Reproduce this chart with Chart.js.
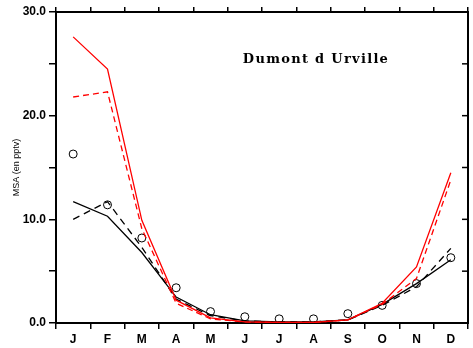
<!DOCTYPE html>
<html>
<head>
<meta charset="utf-8">
<script src="https://cdn.jsdelivr.net/npm/chart.js@4/dist/chart.umd.min.js"></script>
<style>
  html, body { margin: 0; padding: 0; background: #fff; }
  #wrap { width: 473px; height: 348px; }
</style>
</head>
<body>
<div id="wrap"><canvas id="msa"></canvas></div>
<script>
const months = ['J', 'F', 'M', 'A', 'M', 'J', 'J', 'A', 'S', 'O', 'N', 'D']
const redSolid = [27.6, 24.5, 9.9, 2.2, 0.5, 0.1, 0.05, 0.05, 0.3, 1.9, 5.4, 14.5]
const redDashed = [21.8, 22.3, 9.1, 1.9, 0.4, 0.1, 0.05, 0.05, 0.3, 1.8, 4.3, 13.8]
const blackSolid = [11.7, 10.3, 6.8, 2.5, 0.8, 0.2, 0.1, 0.1, 0.3, 1.8, 3.8, 6.1]
const blackDashed = [10.0, 11.7, 7.3, 2.3, 0.7, 0.2, 0.1, 0.1, 0.3, 1.7, 3.5, 7.2]
const observed = [16.3, 11.4, 8.2, 3.4, 1.1, 0.6, 0.4, 0.4, 0.9, 1.7, 3.8, 6.3]
const yTicks = [0, 5, 10, 15, 20, 25, 30]

Chart.defaults.font.family = 'Liberation Sans'
Chart.defaults.color = '#000'
Chart.defaults.plugins.legend.display = false
Chart.defaults.plugins.tooltip.enabled = false

const titlePlugin = {
  id: 'stationTitle',
  afterDraw(chart) {
    const {ctx} = chart
    ctx.save()
    ctx.font = 'bold 13px "DejaVu Serif"'
    ctx.letterSpacing = '1.3px'
    ctx.fillStyle = '#000'
    ctx.textAlign = 'center'
    ctx.textBaseline = 'middle'
    ctx.fillText('Dumont d Urville', 316, 60)
    ctx.letterSpacing = '0px'
    // inward ticks on the right frame
    const ys = chart.scales.y
    const right = chart.chartArea.right
    ctx.strokeStyle = '#000'
    ctx.lineWidth = 1.5
    yTicks.slice(1, -1).forEach((v) => {
      const py = ys.getPixelForValue(v)
      ctx.beginPath()
      ctx.moveTo(right, py)
      ctx.lineTo(right - 6, py)
      ctx.stroke()
    })
    ctx.restore()
  }
}

const line = (data, color, dash) => ({
  data: data,
  borderColor: color,
  borderWidth: 1.3,
  borderDash: dash,
  pointRadius: 0,
  fill: false,
  tension: 0,
})

new Chart(document.getElementById('msa'), {
  type: 'line',
  data: {
    labels: months,
    datasets: [
      line(redSolid, '#ff0000', []),
      line(redDashed, '#ff0000', [6, 4]),
      line(blackSolid, '#000', []),
      line(blackDashed, '#000', [7, 5]),
      {
        data: observed,
        showLine: false,
        pointStyle: 'circle',
        pointRadius: 4,
        borderColor: '#000',
        backgroundColor: '#fff',
        borderWidth: 1,
      },
    ],
  },
  options: {
    responsive: true,
    maintainAspectRatio: false,
    animation: false,
    layout: {padding: 0},
    scales: {
      x: {
        type: 'category',
        offset: true,
        grid: {offset: true, drawOnChartArea: false, tickLength: 6, color: '#000', lineWidth: 1.5},
        border: {width: 2, color: '#000'},
        ticks: {font: {size: 12, weight: 'bold'}, padding: 3, maxRotation: 0},
        afterFit: (s) => { s.height = 25 },
      },
      x2: {
        type: 'category',
        position: 'top',
        offset: true,
        grid: {offset: true, drawOnChartArea: false, tickLength: 5, color: '#000', lineWidth: 1.5},
        border: {width: 2, color: '#000'},
        ticks: {display: false},
        afterFit: (s) => { s.height = 12 },
      },
      y: {
        min: 0,
        max: 30,
        afterBuildTicks: (s) => { s.ticks = yTicks.map((v) => ({value: v})) },
        grid: {drawOnChartArea: false, tickLength: 7, color: '#000', lineWidth: 1.5},
        border: {width: 2, color: '#000'},
        ticks: {
          font: {size: 12, weight: 'bold'},
          padding: 3,
          callback: (v) => (v % 10 === 0 ? v.toFixed(1) : ''),
        },
        title: {display: true, text: 'MSA (en pptv)', font: {size: 9}, padding: {top: 11, bottom: 0}},
        afterFit: (s) => { s.width = 56 },
      },
      y2: {
        position: 'right',
        min: 0,
        max: 30,
        grid: {display: false},
        border: {width: 2, color: '#000'},
        ticks: {display: false},
        afterFit: (s) => { s.width = 3 },
      },
    },
  },
  plugins: [titlePlugin],
})
</script>
</body>
</html>
